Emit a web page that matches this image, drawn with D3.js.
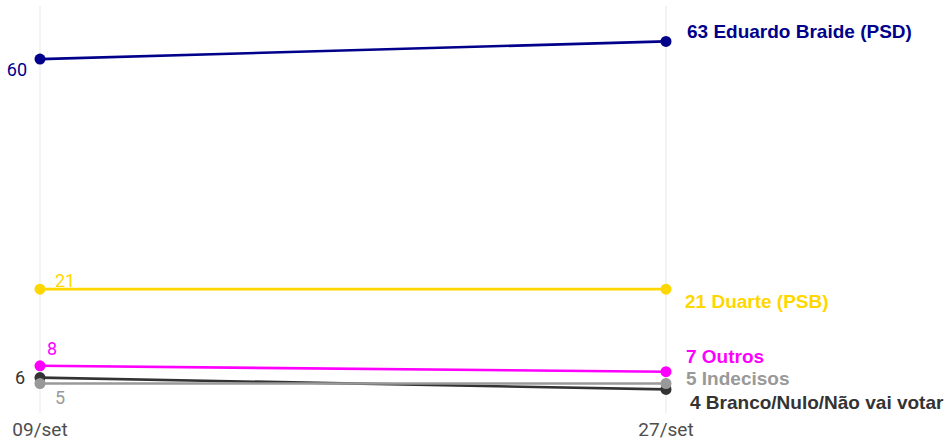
<!DOCTYPE html>
<html>
<head>
<meta charset="utf-8">
<script src="https://cdn.jsdelivr.net/npm/d3@7"></script>
<style>
  body { margin: 0; background: #fff; }
  svg { display: block; }
</style>
</head>
<body>
<div id="chart"></div>
<script>
const dates = ['09/set', '27/set'];
const names = ['Eduardo Braide (PSD)', 'Duarte (PSB)', 'Outros', 'Indecisos', 'Branco/Nulo/Não vai votar'];
const firstValues = [60, 21, 8, 5, 6];
const lastValues = [63, 21, 7, 5, 4];
const colors = ['#00008b', '#ffd700', '#ff00ff', '#999999', '#333333'];

// label nudges (repel-like), px relative to the point
const leftNudge = [[-13, 11, 'end'], [15, -8, 'start'], [7, -17, 'start'], [15, 14, 'start'], [-15, 0, 'end']];
const rightNudge = [[21, -10], [19, 12], [20, -15], [20, -5], [24, 13]];

const WIDTH = 946;
const HEIGHT = 440;

const svg = d3.select('#chart').append('svg')
  .attr('width', WIDTH)
  .attr('height', HEIGHT);

const x = d3.scalePoint().domain(dates).range([40, 666]);
const y = d3.scaleLinear().domain([0, 69]).range([413, 6]);

// vertical grid
svg.append('g').selectAll('line')
  .data(dates)
  .enter().append('line')
  .attr('x1', d => x(d)).attr('x2', d => x(d))
  .attr('y1', y(69)).attr('y2', y(0))
  .attr('stroke', '#ebebeb')
  .attr('stroke-width', 1.2);

// x labels
svg.append('g').selectAll('text')
  .data(dates)
  .enter().append('text')
  .attr('x', d => x(d))
  .attr('y', 436)
  .attr('text-anchor', 'middle')
  .attr('font-family', 'Roboto, sans-serif')
  .attr('font-size', '19px')
  .attr('fill', '#4d4d4d')
  .text(d => d);

const series = names.map((n, i) => ({
  name: n, color: colors[i],
  values: [{ date: dates[0], v: firstValues[i] }, { date: dates[1], v: lastValues[i] }]
}));

const drawOrder = [0, 1, 2, 4, 3];
const line = d3.line().x(d => x(d.date)).y(d => y(d.v));

const g = svg.append('g');
drawOrder.forEach(i => {
  const s = series[i];
  g.append('path')
    .datum(s.values)
    .attr('d', line)
    .attr('fill', 'none')
    .attr('stroke', s.color)
    .attr('stroke-width', 2.6);
  g.selectAll(null)
    .data(s.values)
    .enter().append('circle')
    .attr('cx', d => x(d.date))
    .attr('cy', d => y(d.v))
    .attr('r', 5.5)
    .attr('fill', s.color);
});

// left value labels
svg.append('g').selectAll('text')
  .data(series)
  .enter().append('text')
  .attr('x', (d, i) => x(dates[0]) + leftNudge[i][0])
  .attr('y', (d, i) => y(firstValues[i]) + leftNudge[i][1])
  .attr('dy', '0.35em')
  .attr('text-anchor', (d, i) => leftNudge[i][2])
  .attr('font-family', 'Roboto, sans-serif')
  .attr('font-size', '18px')
  .attr('fill', d => d.color)
  .text((d, i) => firstValues[i]);

// right labels
svg.append('g').selectAll('text')
  .data(series)
  .enter().append('text')
  .attr('x', (d, i) => x(dates[1]) + rightNudge[i][0])
  .attr('y', (d, i) => y(lastValues[i]) + rightNudge[i][1])
  .attr('dy', '0.35em')
  .attr('font-family', '"Liberation Sans", Arial, sans-serif')
  .attr('font-weight', 'bold')
  .attr('font-size', '19px')
  .attr('fill', d => d.color)
  .text((d, i) => lastValues[i] + ' ' + d.name);
</script>
</body>
</html>
